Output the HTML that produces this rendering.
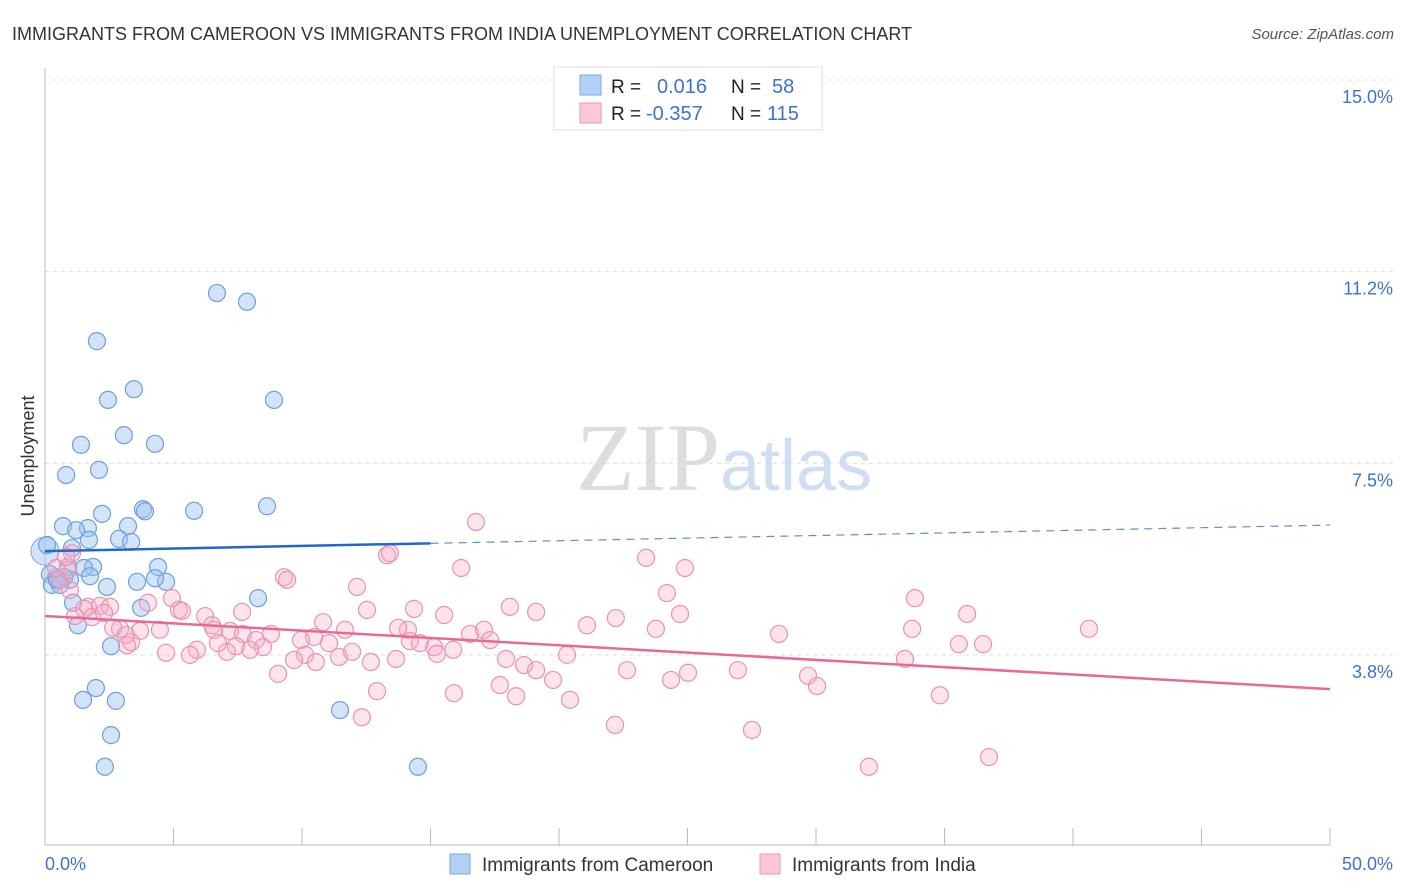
<!DOCTYPE html>
<html><head><meta charset="utf-8"><style>
body{margin:0;background:#fff;font-family:"Liberation Sans",sans-serif;}
svg{display:block}
</style></head><body>
<svg id="chart" width="1406" height="892" xmlns="http://www.w3.org/2000/svg">
<text x="12" y="40" font-size="18" fill="#333">IMMIGRANTS FROM CAMEROON VS IMMIGRANTS FROM INDIA UNEMPLOYMENT CORRELATION CHART</text>
<text x="1394" y="39" font-size="15" fill="#555" font-style="italic" text-anchor="end">Source: ZipAtlas.com</text>
<g id="grid"></g>
<text x="720" y="490" font-size="96" font-family="Liberation Serif,serif" fill="#ddd" text-anchor="end">ZIP</text>
<text x="720" y="490" font-size="72" fill="#cfdff3">atlas</text>
<line x1="45" y1="68" x2="45" y2="845" stroke="#bbb"/>
<line x1="45" y1="845" x2="1330" y2="845" stroke="#bbb"/>
<text x="34" y="456" font-size="18" fill="#333" text-anchor="middle" transform="rotate(-90 34 456)">Unemployment</text>
<g id="pts"></g>
<g id="lines"></g>
<g>
<rect x="554" y="67" width="268" height="63" fill="#fff" stroke="#ddd"/>
<rect x="580" y="75" width="21" height="20" fill="#b5d0f5" stroke="#7aa8e8"/>
<rect x="580" y="103" width="21" height="20" fill="#fcc8d8" stroke="#eb95b2"/>
<text x="611" y="93" font-size="19" fill="#222">R =</text><text x="657" y="93" font-size="20" fill="#3a73d0">0.016</text>
<text x="731" y="93" font-size="19" fill="#222">N =</text><text x="772" y="93" font-size="20" fill="#3a73d0">58</text>
<text x="611" y="120" font-size="19" fill="#222">R =</text><text x="646" y="120" font-size="20" fill="#3a73d0">-0.357</text>
<text x="731" y="120" font-size="19" fill="#222">N =</text><text x="767" y="120" font-size="20" fill="#3a73d0">115</text>
</g>
<g>
<rect x="450" y="854" width="20" height="20" fill="#b5d0f5" stroke="#7aa8e8"/>
<text x="482" y="871" font-size="19" fill="#333">Immigrants from Cameroon</text>
<rect x="760" y="854" width="20" height="20" fill="#fcc8d8" stroke="#eb95b2"/>
<text x="792" y="871" font-size="19" fill="#333">Immigrants from India</text>
</g>
<text x="45" y="870" font-size="18" fill="#3a73d0">0.0%</text>
<text x="1393" y="870" font-size="18" fill="#3a73d0" text-anchor="end">50.0%</text>
</svg>
<script>
const yTicks=[15.0,11.2,7.5,3.8];
const yTickVals=[15,11.25,7.5,3.75];
const blueX=[6.69,7.86,2.02,3.46,2.45,8.91,3.07,4.28,1.40,2.10,0.82,3.81,3.89,5.80,8.64,2.22,0.70,1.67,3.23,1.21,1.71,2.88,3.35,1.05,0.08,1.87,1.52,0.89,0.43,0.97,0.19,0.27,4.40,3.58,4.71,4.28,2.41,1.75,8.29,3.74,1.09,1.28,2.57,1.98,1.48,2.76,2.57,2.33,11.48,14.51,0.58,0.74,0.47];
const blueY=[10.83,10.66,9.89,8.95,8.74,8.74,8.05,7.88,7.86,7.37,7.27,6.60,6.56,6.57,6.66,6.51,6.27,6.23,6.27,6.19,6.00,6.02,5.96,5.84,5.90,5.47,5.45,5.47,5.27,5.22,5.33,5.12,5.47,5.18,5.18,5.25,5.08,5.29,4.86,4.67,4.77,4.33,3.92,3.10,2.87,2.85,2.18,1.56,2.67,1.56,5.12,5.27,5.22];
const pinkX=[16.77,13.31,13.42,23.39,24.90,16.19,9.30,9.42,12.14,24.20,33.85,35.88,4.94,4.01,5.21,5.33,6.23,7.67,12.53,14.36,15.53,18.09,19.11,22.21,24.71,10.82,6.50,6.58,7.20,7.70,8.79,4.47,3.70,2.92,2.65,1.67,1.52,2.14,1.83,1.17,2.53,0.97,0.58,1.05,0.89,0.43,0.82,2.30,40.62,33.74,28.56,23.77,21.09,16.54,17.08,17.32,14.12,13.74,11.67,10.47,9.96,11.05,8.21,8.48,7.98,7.43,7.08,6.73,5.91,5.64,4.71,3.35,3.15,3.19,35.56,36.50,14.20,14.59,15.14,15.25,15.88,20.31,10.12,9.69,10.54,11.44,11.95,12.68,13.66,9.07,17.94,18.64,19.11,19.77,22.65,25.02,24.36,26.96,29.69,30.04,33.46,34.82,12.92,15.91,17.70,18.33,20.43,22.18,27.51,12.33,32.06,36.73];
const pinkY=[6.35,5.70,5.74,5.65,5.45,5.45,5.27,5.22,5.08,4.96,4.86,4.55,4.86,4.77,4.63,4.61,4.51,4.59,4.63,4.65,4.53,4.69,4.59,4.47,4.55,4.39,4.33,4.24,4.22,4.16,4.16,4.24,4.22,4.26,4.28,4.69,4.65,4.71,4.49,4.51,4.69,5.02,5.22,5.74,5.41,5.45,5.67,4.57,4.26,4.26,4.16,4.26,4.33,4.16,4.24,4.04,4.24,4.28,4.24,4.10,4.04,3.98,4.04,3.90,3.85,3.92,3.81,3.98,3.85,3.75,3.79,4.00,4.14,3.94,3.96,3.96,4.02,3.98,3.90,3.77,3.85,3.75,3.75,3.65,3.61,3.71,3.81,3.61,3.67,3.38,3.67,3.55,3.45,3.26,3.45,3.40,3.26,3.45,3.34,3.14,3.67,2.96,3.04,3.00,3.16,2.94,2.87,2.38,2.28,2.53,1.56,1.75];
const blueLine=[5.78,6.29];
const pinkLine=[4.51,3.08];
const NS="http://www.w3.org/2000/svg";
const sx=v=>45+v/50*1285;
const sy=v=>80+(15-v)*51.1;
function mk(t,a,p){const e=document.createElementNS(NS,t);for(const k in a)e.setAttribute(k,a[k]);p.appendChild(e);return e;}
const grid=document.getElementById('grid');
yTickVals.forEach((v,i)=>{
  const l=mk('line',{x1:45,x2:1393,y1:sy(v),y2:sy(v),stroke:'#ddd','stroke-dasharray':'4,4'},grid);
  
  
  const t=mk('text',{x:1393,y:sy(v)+23,'font-size':18,fill:'#3a73d0','text-anchor':'end'},grid);
  t.textContent=yTicks[i].toFixed(1)+'%';
  
  
});
for(let i=0;i<=10;i++){
  const l=mk('line',{x1:sx(i*5),x2:sx(i*5),y1:828,y2:845,stroke:'#bbb'},grid);
  
  
}
const pts=document.getElementById('pts');
mk('circle',{cx:sx(0),cy:sy(5.78),r:14,fill:'rgba(160,196,240,0.45)',stroke:'#7aa8e8'},pts);
blueX.forEach((x,i)=>{
  const c=mk('circle',{cx:sx(x),cy:sy(blueY[i]),r:8.5,fill:'rgba(160,196,240,0.45)',stroke:'#6a9fe0','stroke-width':1.2},pts);
  
  
});
pinkX.forEach((x,i)=>{
  const c=mk('circle',{cx:sx(x),cy:sy(pinkY[i]),r:8.5,fill:'rgba(247,175,200,0.35)',stroke:'#ea92b0','stroke-width':1.2},pts);
  
  
});
const lines=document.getElementById('lines');
const bAt=x=>blueLine[0]+(blueLine[1]-blueLine[0])*x/50;
let l1=mk('line',{x1:sx(0),y1:sy(bAt(0)),x2:sx(15),y2:sy(bAt(15)),stroke:'#2068d0','stroke-width':2.5},lines);


let l2=mk('line',{x1:sx(15),y1:sy(bAt(15)),x2:sx(50),y2:sy(bAt(50)),stroke:'#5a8fd8','stroke-width':1.2,'stroke-dasharray':'8,6'},lines);


let l3=mk('line',{x1:sx(0),y1:sy(pinkLine[0]),x2:sx(50),y2:sy(pinkLine[1]),stroke:'#e8689a','stroke-width':2.5},lines);


</script>
</body></html>
